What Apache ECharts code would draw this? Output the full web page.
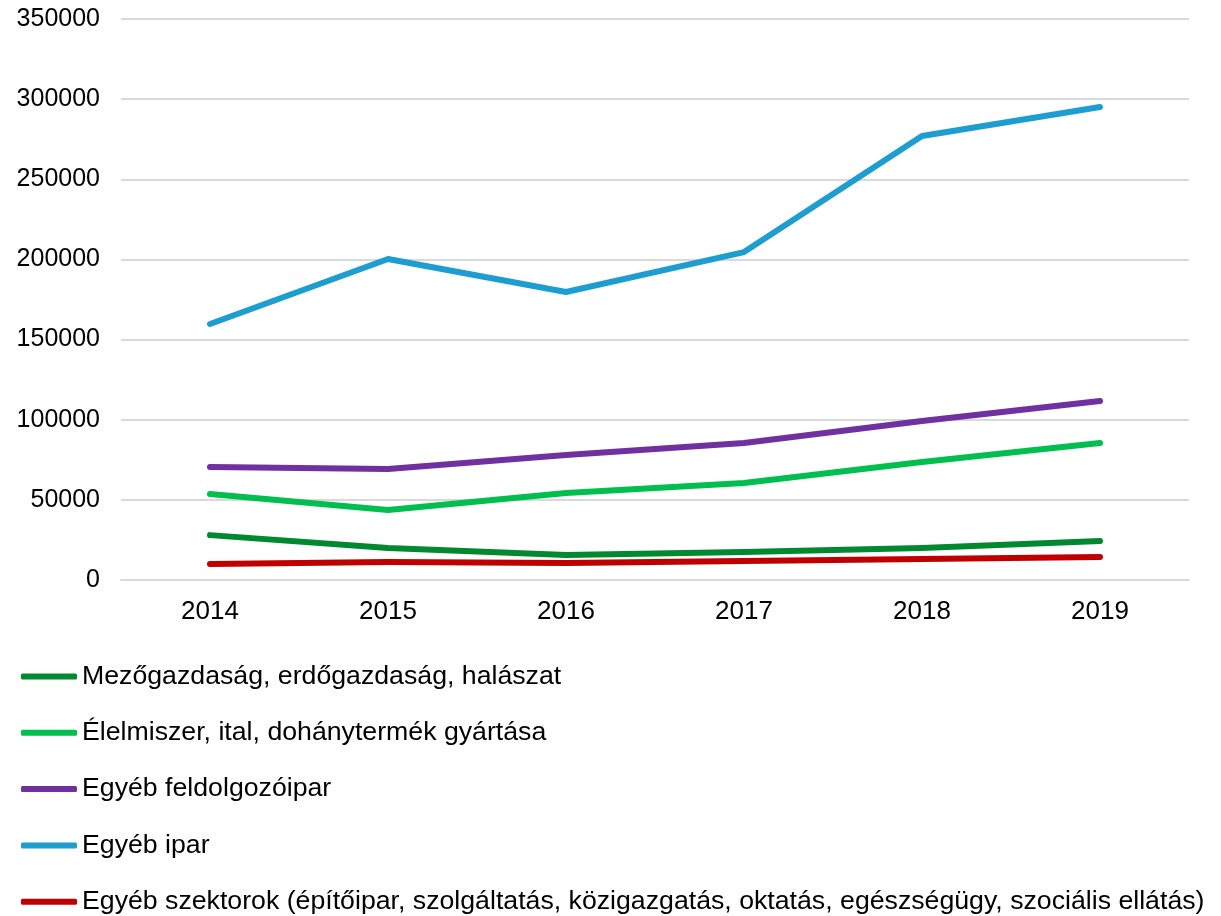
<!DOCTYPE html>
<html>
<head>
<meta charset="utf-8">
<script src="https://cdn.jsdelivr.net/npm/echarts@6/dist/echarts.min.js"></script>
<style>
  html, body { margin: 0; padding: 0; background: #fff; }
  #chart { width: 1221px; height: 916px; }
</style>
</head>
<body>
<div id="chart"></div>
<script>
// évek
var years = ['2014', '2015', '2016', '2017', '2018', '2019'];

var mezogazdasag = [28000, 20000, 15600, 17500, 20000, 24300];
var elelmiszer = [53700, 43700, 54300, 60500, 73600, 85500];
var feldolgozoipar = [70500, 69200, 78000, 85500, 99200, 111700];
var egyebIpar = [159700, 200300, 179700, 204600, 277000, 295100];
var egyebSzektorok = [10000, 11200, 10600, 11800, 13100, 14300];

var names = [
  'Mezőgazdaság, erdőgazdaság, halászat',
  'Élelmiszer, ital, dohánytermék gyártása',
  'Egyéb feldolgozóipar',
  'Egyéb ipar',
  'Egyéb szektorok (építőipar, szolgáltatás, közigazgatás, oktatás, egészségügy, szociális ellátás)'
];
var values = [mezogazdasag, elelmiszer, feldolgozoipar, egyebIpar, egyebSzektorok];
var colors = ['#00892f', '#00bf4f', '#7030a0', '#1e9dd0', '#c00000'];

var font = 'Liberation Sans, Arial, sans-serif';

var series = names.map(function (n, i) {
  return {
    name: n,
    type: 'line',
    data: values[i],
    symbol: 'none',
    color: colors[i],
    lineStyle: { width: 6, color: colors[i], cap: 'round', join: 'round' }
  };
});

var legends = names.map(function (n, i) {
  return {
    data: [n],
    orient: 'vertical',
    left: 16,
    top: 657.5 + i * 56.3,
    itemWidth: 56,
    itemHeight: 6,
    itemGap: 0,
    icon: 'roundRect',
    textStyle: { fontFamily: font, fontSize: 26.7, color: '#000', lineHeight: 28 }
  };
});

var myChart = echarts.init(document.getElementById('chart'));
myChart.setOption({
  animation: false,
  backgroundColor: '#fff',
  grid: { left: 121, right: 32, top: 19, bottom: 336, containLabel: false },
  legend: legends,
  xAxis: {
    type: 'category',
    data: years,
    boundaryGap: true,
    axisLine: { show: true, lineStyle: { color: '#d9d9d9', width: 2 } },
    axisTick: { show: false },
    axisLabel: { fontFamily: font, fontSize: 26, color: '#000', margin: 19 }
  },
  yAxis: {
    type: 'value',
    min: 0,
    max: 350000,
    interval: 50000,
    axisLine: { show: false },
    axisTick: { show: false },
    axisLabel: {
      fontFamily: font, fontSize: 25, color: '#000', margin: 21,
      formatter: function (v) { return String(v); }
    },
    splitLine: { lineStyle: { color: '#d9d9d9', width: 2 } }
  },
  series: series
});
</script>
</body>
</html>
